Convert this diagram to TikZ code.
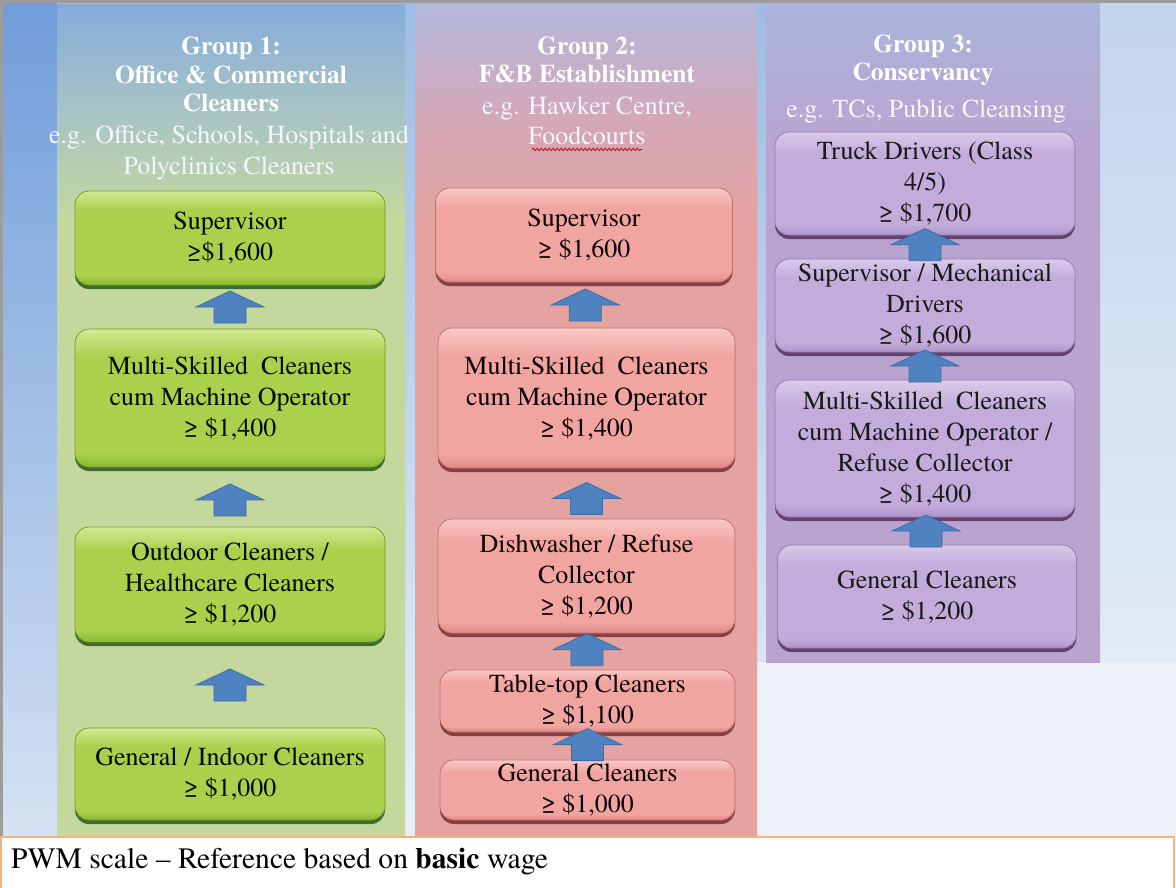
\documentclass[tikz,border=0pt]{standalone}
\usepackage{fontspec}
\IfFontExistsTF{texgyretermes-regular.otf}{%
  \setmainfont{texgyretermes}[Extension=.otf, UprightFont=*-regular, BoldFont=*-bold, ItalicFont=*-italic, BoldItalicFont=*-bolditalic]}{%
  \setmainfont{Liberation Serif}}
\usetikzlibrary{shadows,calc,decorations.pathmorphing}

\definecolor{gcolb}{HTML}{C4D89E}
\definecolor{gcolm}{HTML}{A8C4C4}
\definecolor{gcolt}{HTML}{86ABDB}
\definecolor{pcolb}{HTML}{E4A2A0}
\definecolor{pcolm}{HTML}{D2A8B8}
\definecolor{pcolt}{HTML}{B4B8DC}
\definecolor{vcolb}{HTML}{B9A4D0}
\definecolor{vcolt}{HTML}{AAB4DC}
\definecolor{gbdark}{HTML}{8DB832}
\definecolor{gbmain}{HTML}{AAD04C}
\definecolor{gblight}{HTML}{D2EA92}
\definecolor{pbdark}{HTML}{E08A86}
\definecolor{pbmain}{HTML}{F1A5A1}
\definecolor{pblight}{HTML}{F9C8C4}
\definecolor{vbdark}{HTML}{AE94CC}
\definecolor{vbmain}{HTML}{C3ACDB}
\definecolor{vblight}{HTML}{DACAEA}
\definecolor{arrowblue}{HTML}{4F82C0}
\definecolor{arrowedge}{HTML}{3D6CA6}
\definecolor{bgtop}{HTML}{9DBCE4}
\definecolor{bgbot}{HTML}{E8EFF8}
\definecolor{lefttop}{HTML}{6F9CD9}
\definecolor{leftbot}{HTML}{D5E2F3}
\definecolor{righttop}{HTML}{C2D6EE}
\definecolor{rightbot}{HTML}{E2EBF6}
\definecolor{paleright}{HTML}{EDF1F8}
\definecolor{framegray}{HTML}{9C9C9C}
\definecolor{orangeline}{HTML}{F2B27A}

% the path is mapped onto the 25bp..75bp band of a shading
\pgfdeclareverticalshading{colgreen}{100bp}{color(0bp)=(gcolb); color(25bp)=(gcolb); color(62bp)=(gcolb); color(68.5bp)=(gcolm); color(75bp)=(gcolt); color(100bp)=(gcolt)}
\pgfdeclareverticalshading{colpink}{100bp}{color(0bp)=(pcolb); color(25bp)=(pcolb); color(62bp)=(pcolb); color(68.5bp)=(pcolm); color(75bp)=(pcolt); color(100bp)=(pcolt)}
\pgfdeclareverticalshading{colviolet}{100bp}{color(0bp)=(vcolb); color(25bp)=(vcolb); color(64bp)=(vcolb); color(75bp)=(vcolt); color(100bp)=(vcolt)}
\pgfdeclareverticalshading{boxgreen}{100bp}{color(0bp)=(gbdark); color(25bp)=(gbdark); color(30bp)=(gbmain); color(65bp)=(gbmain); color(75bp)=(gblight); color(100bp)=(gblight)}
\pgfdeclareverticalshading{boxpink}{100bp}{color(0bp)=(pbdark); color(25bp)=(pbdark); color(30bp)=(pbmain); color(65bp)=(pbmain); color(75bp)=(pblight); color(100bp)=(pblight)}
\pgfdeclareverticalshading{boxviolet}{100bp}{color(0bp)=(vbdark); color(25bp)=(vbdark); color(30bp)=(vbmain); color(65bp)=(vbmain); color(75bp)=(vblight); color(100bp)=(vblight)}

\newcommand\boxfont{\fontsize{26}{31}\selectfont}

\tikzset{
  basebox/.style={rounded corners=14pt, align=center, font=\boxfont, inner sep=2pt, line width=0.8pt},
  gbox/.style={basebox, shading=boxgreen, draw=gbdark!85!black, text=black!85!green!30!black,
    drop shadow={shadow xshift=0pt, shadow yshift=-4pt, fill=green!25!black, opacity=0.7}},
  pbox/.style={basebox, shading=boxpink, draw=pbdark!85!black, text=black!85!red!30!black,
    drop shadow={shadow xshift=0pt, shadow yshift=-4pt, fill=red!30!black, opacity=0.6}},
  vbox/.style={basebox, shading=boxviolet, draw=vbdark!85!black, text=black!90,
    drop shadow={shadow xshift=0pt, shadow yshift=-4pt, fill=violet!35!black, opacity=0.6}},
  hdrbold/.style={align=center, text=white, font=\fontsize{25.5}{28.5}\selectfont\bfseries, inner sep=0pt},
  hdrplain/.style={align=center, text=white!96!blue, font=\fontsize{26}{30.5}\selectfont, inner sep=0pt},
  uparr/.pic={\filldraw[fill=arrowblue, draw=arrowedge, line width=0.8pt]
     (-16,16) -- (-16,0) -- (-34,0) -- (0,-16) -- (34,0) -- (16,0) -- (16,16) -- cycle;}
}

\begin{document}
\begin{tikzpicture}[x=1pt, y=-1pt]
\useasboundingbox (0,0) rectangle (1176,888);

% background
\shade[top color=bgtop, bottom color=bgbot] (0,0) rectangle (1176,836);
\shade[top color=lefttop, bottom color=leftbot] (0,0) rectangle (57,836);
\shade[top color=righttop, bottom color=rightbot] (1100,0) rectangle (1176,662);
\fill[paleright] (757,662) rectangle (1176,836);

% columns
\shade[shading=colgreen] (57,5) rectangle (405,836);
\shade[shading=colpink] (415,5) rectangle (757,836);
\shade[shading=colviolet] (766,5) rectangle (1100,662);

% frame
\draw[framegray, line width=3pt] (0,1.5) -- (1176,1.5);
\draw[framegray, line width=3pt] (1.5,0) -- (1.5,836);

% headers
\node[hdrbold] (h1) at (231,74.5) {Group 1:\\Office \& Commercial\\Cleaners};
\node[hdrplain] (e1) at (229,153) {e.g. Office, Schools, Hospitals and\\Polyclinics Cleaners};
\node[hdrbold] (h2) at (587,60) {Group 2:\\F\&B Establishment};
\node[hdrplain] (e2) at (587,121) {e.g. Hawker Centre,\\Foodcourts};
\draw[red!85!black, line width=0.8pt, decorate, decoration={snake, segment length=4pt, amplitude=1.2pt}]
  ($(e2.south)+(-55,4)$) -- ($(e2.south)+(55,4)$);
\node[hdrbold] (h3) at (923,60.5) {Group 3:\\Conservancy};
\node[hdrplain] (e3) at (926,111) {e.g. TCs, Public Cleansing};

% group 1 boxes
\node[gbox, minimum width=310pt, minimum height=94pt] (s1) at (230,238) {Supervisor\\≥\$1,600};
\node[gbox, minimum width=310pt, minimum height=138pt] (m1) at (230,398) {Multi-Skilled\ \ Cleaners\\cum Machine Operator\\≥ \$1,400};
\node[gbox, minimum width=310pt, minimum height=115pt] (o1) at (230,584.5) {Outdoor Cleaners /\\Healthcare Cleaners\\≥ \$1,200};
\node[gbox, minimum width=310pt, minimum height=92pt] (g1) at (230,774) {General / Indoor Cleaners\\≥ \$1,000};

% group 2 boxes
\node[pbox, minimum width=297pt, minimum height=94pt] (s2) at (584,235) {Supervisor\\≥ \$1,600};
\node[pbox, minimum width=297pt, minimum height=140pt] (m2) at (586.5,398) {Multi-Skilled\ \ Cleaners\\cum Machine Operator\\≥ \$1,400};
\node[pbox, minimum width=297pt, minimum height=114pt] (d2) at (586.5,576) {Dishwasher / Refuse\\Collector\\≥ \$1,200};
\node[pbox, minimum width=295pt, minimum height=62pt] (t2) at (587.5,701) {Table-top Cleaners\\≥ \$1,100};
\node[pbox, minimum width=295pt, minimum height=60pt] (c2) at (587.5,790) {General Cleaners\\≥ \$1,000};

% group 3 boxes
\node[vbox, minimum width=300pt, minimum height=103pt] (tr3) at (925,183.5) {Truck Drivers (Class\\4/5)\\≥ \$1,700};
\node[vbox, minimum width=300pt, minimum height=93pt] (sm3) at (925,305.5) {Supervisor / Mechanical\\Drivers\\≥ \$1,600};
\node[vbox, minimum width=300pt, minimum height=137pt] (mc3) at (925,448.5) {Multi-Skilled\ \ Cleaners\\cum Machine Operator /\\Refuse Collector\\≥ \$1,400};
\node[vbox, minimum width=299pt, minimum height=103pt] (gc3) at (927,596.5) {General Cleaners\\≥ \$1,200};

% arrows
\pic at ($(s1.south)!0.5!(m1.north)$) {uparr};
\pic at ($(m1.south)!0.55!(o1.north)$) {uparr};
\pic at ($(o1.south)!0.5!(g1.north)$) {uparr};
\pic at ($(s2.south)!0.5!(m2.north)$) {uparr};
\pic at ($(m2.south)!0.6!(d2.north)$) {uparr};
\pic at ($(d2.south)!0.45!(t2.north)$) {uparr};
\pic at ($(t2.south)!0.45!(c2.north)$) {uparr};
\pic at ($(tr3.south)!0.4!(sm3.north)$) {uparr};
\pic at ($(sm3.south)!0.5!(mc3.north)$) {uparr};
\pic at ($(mc3.south)!0.5!(gc3.north)$) {uparr};

% bottom caption
\draw[orangeline, line width=2pt, fill=white] (1,837) rectangle (1174,889);
\node[anchor=west, font=\fontsize{29.6}{32}\selectfont, text=black, inner sep=0pt] (pwm) at (11,862) {PWM scale -- Reference based on \textbf{basic} wage};
\end{tikzpicture}
\end{document}
